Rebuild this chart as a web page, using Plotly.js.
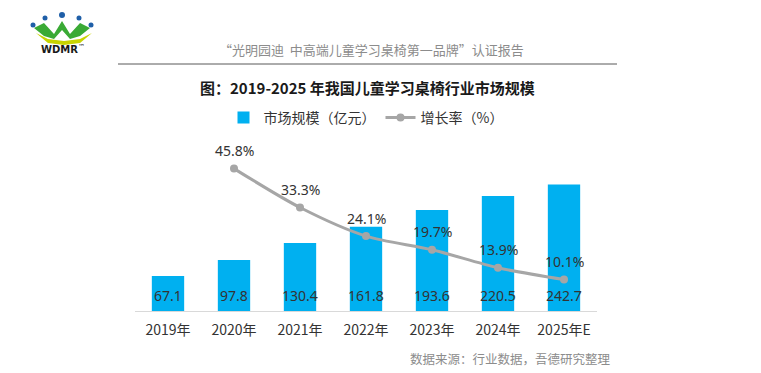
<!DOCTYPE html>
<html><head><meta charset="utf-8">
<script src="https://cdn.plot.ly/plotly-3.0.1.min.js"></script>
<style>html,body{margin:0;padding:0;background:#fff;}#c{width:761px;height:373px;}</style>
</head><body><div id="c"></div>
<script>
const years = ['2019年','2020年','2021年','2022年','2023年','2024年','2025年E'];
const marketSize = [67.1, 97.8, 130.4, 161.8, 193.6, 220.5, 242.7];
const growthYears = ['2020年','2021年','2022年','2023年','2024年','2025年E'];
const growthRate = [45.8, 33.3, 24.1, 19.7, 13.9, 10.1];

const F = '"Noto Sans", "Noto Sans CJK SC", sans-serif';
const CJK = '"Noto Sans CJK SC", "Noto Sans", sans-serif';

// plot-area geometry (pixels)
const L = 135, R = 597, T = 140, B = 311;
const W = R - L, H = B - T;
function toP(x,y){return [(x-L)/W, (B-y)/H];}

const traces = [
  {type:'bar', x:years, y:marketSize, name:'市场规模（亿元）',
   marker:{color:'#00b0f0'}, hoverinfo:'none'},
  {type:'scatter', mode:'lines+markers', x:growthYears, y:growthRate, yaxis:'y2',
   name:'增长率（%）', line:{color:'#a6a6a6', width:3, shape:'spline', smoothing:0.8},
   marker:{color:'#a6a6a6', size:8}, cliponaxis:false, hoverinfo:'none'}
];

function ann(x,y,text,font,xanchor){const p=toP(x,y);
  return {xref:'paper', yref:'paper', x:p[0], y:p[1], xanchor:xanchor||'center', yanchor:'middle',
          showarrow:false, text:text, font:font};}
function logoPath(pts){return pts.map((p,i)=>{const q=toP(p[0],p[1]);return (i?'L':'M')+q[0].toFixed(4)+','+q[1].toFixed(4);}).join(' ')+' Z';}
function logoDot(x,y,r){const a=toP(x-r,y-r), b=toP(x+r,y+r);
  return {type:'circle', xref:'paper', yref:'paper', layer:'above', x0:a[0], x1:b[0], y0:b[1], y1:a[1], fillcolor:'#1f5fa8', line:{width:0}};}

const rule = toP(118,64), rule2 = toP(617,64);
const lg = toP(0,118);

const barLabels = years.map((c,i)=>({xref:'x', yref:'y', x:c, y:0, yanchor:'middle', yshift:16,
  showarrow:false, text:marketSize[i].toFixed(1), font:{family:F, size:14, color:'#333333'}}));
const lineLabels = growthYears.map((c,i)=>({xref:'x', yref:'y2', x:c, y:growthRate[i], yanchor:'middle', yshift:18,
  showarrow:false, text:growthRate[i].toFixed(1)+'%', font:{family:F, size:14, color:'#333333'}}));

const layout = {
  width:761, height:373, paper_bgcolor:'#fff', plot_bgcolor:'#fff',
  margin:{l:L, r:761-R, t:T, b:373-B, autoexpand:false},
  bargap:0.51, showlegend:true,
  legend:{orientation:'h', x:0.5, xanchor:'center', y:lg[1], yanchor:'middle',
          font:{family:CJK, size:14, color:'#333'}, traceorder:'normal'},
  xaxis:{type:'category', showgrid:false, showline:true, linecolor:'#d9d9d9', linewidth:1,
         ticks:'', tickangle:0, ticklabelstandoff:6, tickfont:{family:CJK, size:14, color:'#333'}, fixedrange:true},
  yaxis:{range:[0,328], visible:false, fixedrange:true},
  yaxis2:{range:[0,55], overlaying:'y', side:'right', visible:false, fixedrange:true},
  annotations:[
    ann(367,87,'<b>图：2019-2025 年我国儿童学习桌椅行业市场规模</b>',{family:CJK, size:15, color:'#1a1a1a'}),
    ann(371,50,'“光明园迪  中高端儿童学习桌椅第一品牌”认证报告',{family:CJK, size:13, color:'#8c8c8c'}),
    ann(613,358,'数据来源：行业数据，吾德研究整理',{family:CJK, size:12.5, color:'#8c8c8c'},'right'),
    ann(63,49,'<b>WDMR</b><sup>™</sup>',{family:'"DejaVu Sans", sans-serif', size:10, color:'#1a1a1a'})
  ].concat(barLabels, lineLabels),
  shapes:[
    {type:'line', xref:'paper', yref:'paper', x0:rule[0], x1:rule2[0], y0:rule[1], y1:rule[1],
     line:{color:'#595959', width:1}},
    {type:'path', xref:'paper', yref:'paper', layer:'above',
     path:logoPath([[36,33],[48,39],[64,41],[80,39],[92,33],[80,43],[64,45],[48,43]]), fillcolor:'#c8d400', line:{width:0}},
    {type:'path', xref:'paper', yref:'paper', layer:'above',
     path:logoPath([[34,28],[44,23],[54,34],[62,21],[70,34],[80,23],[90,28],[80,36],[70,39],[62,30],[54,39],[44,36]]), fillcolor:'#3aaa35', line:{width:0}},
    logoDot(33,25,2.5), logoDot(45,18,2.5), logoDot(62,15,3), logoDot(79,18,2.5), logoDot(91,25,2.5)
  ]
};

Plotly.newPlot('c', traces, layout, {displayModeBar:false, staticPlot:true});
</script></body></html>
